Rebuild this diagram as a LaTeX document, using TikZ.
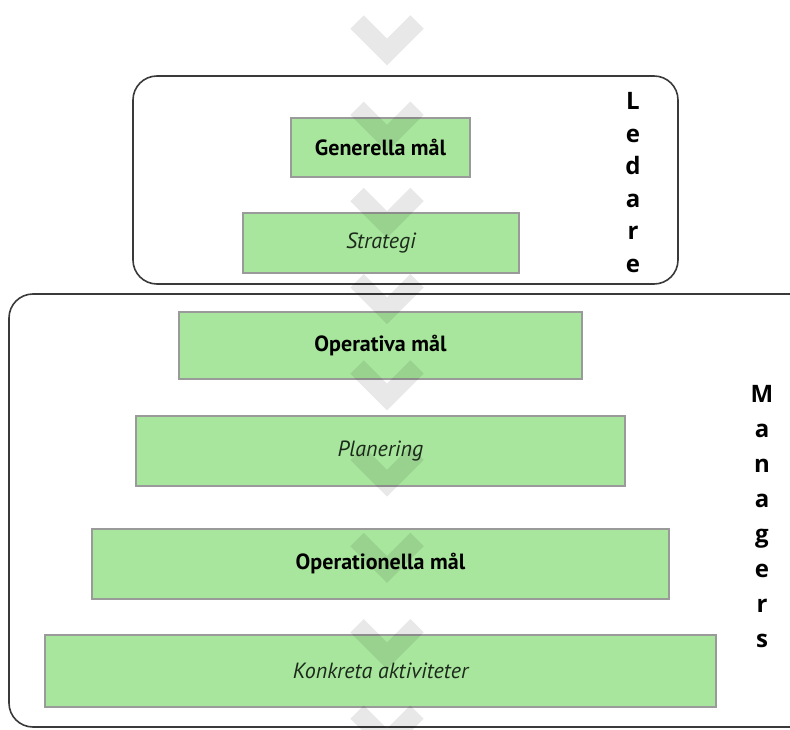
\documentclass[tikz,border=0pt]{standalone}
\usepackage{fontspec}
\setmainfont{PT Sans}
\newfontfamily\sidefont{Open Sans}
\definecolor{boxgreen}{HTML}{A9E69D}
\definecolor{boxedge}{HTML}{9A9A9A}
\definecolor{frameedge}{HTML}{3A3A3A}
\definecolor{italtext}{HTML}{1C2A1C}
\tikzset{
  level/.style={draw=boxedge, line width=1.3pt, fill=boxgreen, inner sep=0pt},
  boldlabel/.style={font=\fontsize{22}{26}\selectfont\bfseries, text=black},
  itallabel/.style={font=\fontsize{22}{26}\selectfont\itshape, text=italtext},
  frame/.style={draw=frameedge, line width=1.6pt, rounded corners=24pt},
  sideletter/.style={font=\sidefont\fontsize{24}{28}\selectfont\bfseries, anchor=base, inner sep=0pt},
  chevronmark/.style={draw=black, draw opacity=0.09, line width=19pt, line join=miter, line cap=butt}
}
\begin{document}
\begin{tikzpicture}[x=1pt, y=-1pt]
\useasboundingbox (0,0) rectangle (790,730);
\clip (0,0) rectangle (790,730);

% group frames
\draw[frame] (133,76) rectangle (678,284);
\draw[frame] (9,294) rectangle (830,727);

% levels of the goal hierarchy
\node[level, minimum width=179pt, minimum height=59pt] (gen) at (380.5,147.5) {};
\node[level, minimum width=276pt, minimum height=60pt] (str) at (381,243) {};
\node[level, minimum width=403pt, minimum height=67pt] (opv) at (380.5,345.5) {};
\node[level, minimum width=489pt, minimum height=70pt] (pla) at (380.5,451) {};
\node[level, minimum width=577pt, minimum height=70pt] (opn) at (380.5,564) {};
\node[level, minimum width=671pt, minimum height=72pt] (kon) at (380.5,671) {};

\node[boldlabel] (genT) at (gen) {Generella mål};
\node[itallabel] (strT) at (str) {Strategi};
\node[boldlabel] (opvT) at (opv) {Operativa mål};
\node[itallabel] (plaT) at (pla) {Planering};
\node[boldlabel] (opnT) at (opn) {Operationella mål};
\node[itallabel] (konT) at (kon) {Konkreta aktiviteter};

% downward chevrons along the centre
\foreach \k in {0,...,8} {
  \pgfmathsetmacro{\yy}{52+86.25*\k}
  \draw[chevronmark] (357,\yy-30) -- (387,\yy) -- (417,\yy-30);
}

% vertical group titles
\foreach \ch [count=\i from 0] in {L,e,d,a,r,e} {
  \node[sideletter] (led\i) at (633,110+32.5*\i) {\ch};
}
\foreach \ch [count=\i from 0] in {M,a,n,a,g,e,r,s} {
  \node[sideletter] (man\i) at (762,402+35*\i) {\ch};
}
\end{tikzpicture}
\end{document}
